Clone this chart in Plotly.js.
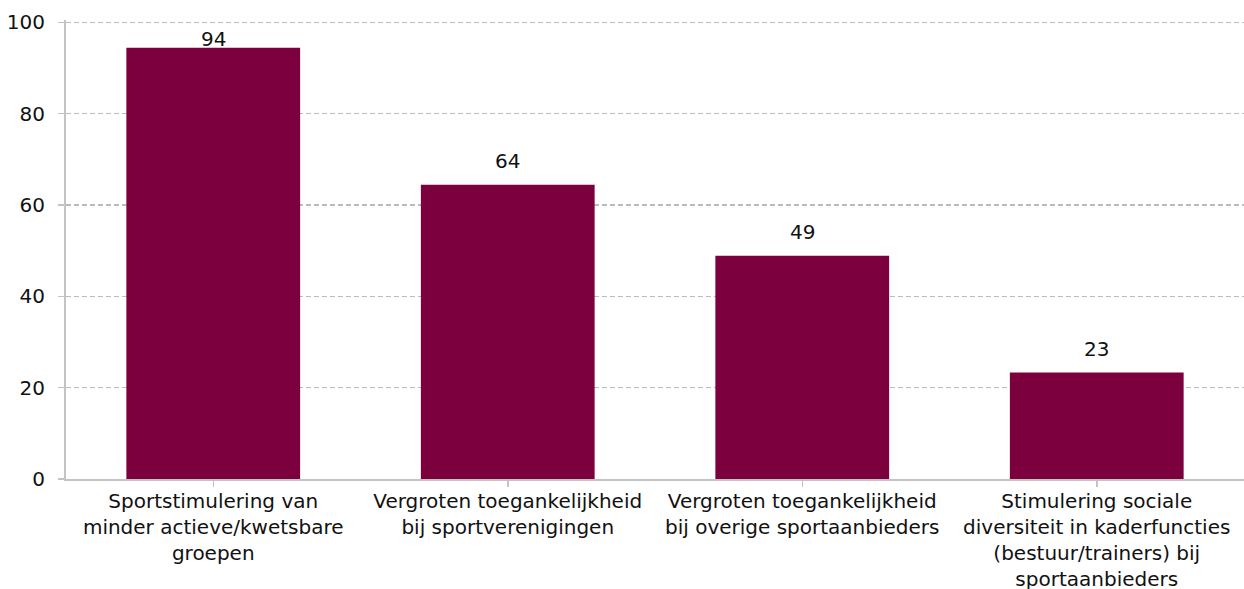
<!DOCTYPE html>
<html>
<head>
<meta charset="utf-8">
<script src="https://cdn.plot.ly/plotly-3.0.1.min.js"></script>
<style>
  html, body { margin: 0; padding: 0; background: #fff; }
  #chart { width: 1244px; height: 589px; }
</style>
</head>
<body>
<div id="chart"></div>
<script>
  var categories = [
    "Sportstimulering van<br>minder actieve/kwetsbare<br>groepen",
    "Vergroten toegankelijkheid<br>bij sportverenigingen",
    "Vergroten toegankelijkheid<br>bij overige sportaanbieders",
    "Stimulering sociale<br>diversiteit in kaderfuncties<br>(bestuur/trainers) bij<br>sportaanbieders"
  ];
  var values = [94.4, 64.4, 48.9, 23.3];
  var valueLabels = ["94", "64", "49", "23"];
  var yTicks = [0, 20, 40, 60, 80, 100];

  var barColor = "#7c003e";
  var gray = "#c4c4c4";
  var font = { family: "DejaVu Sans, Verdana, sans-serif", size: 20, color: "#111" };

  var yMax = 100.5;
  var margin = { l: 66, r: 0, t: 20, b: 110 };
  var plotHeight = 589 - margin.t - margin.b;
  var pxPerUnit = plotHeight / yMax;

  // labels sit above each bar, but are pushed down when they would run past the top
  var annotations = values.map(function (v, i) {
    var room = (100 - v) * pxPerUnit - 31;
    return {
      x: i, y: v, xref: "x", yref: "y",
      text: valueLabels[i], showarrow: false,
      yanchor: "bottom", yshift: Math.min(10, room),
      font: font
    };
  });

  Plotly.newPlot("chart", [{
    type: "bar",
    x: [0, 1, 2, 3],
    y: values,
    width: 0.59,
    marker: { color: barColor },
    hoverinfo: "none"
  }], {
    width: 1244, height: 589,
    margin: margin,
    font: font,
    paper_bgcolor: "#fff",
    plot_bgcolor: "#fff",
    showlegend: false,
    annotations: annotations,
    xaxis: {
      range: [-0.5, 3.5],
      tickmode: "array", tickvals: [0, 1, 2, 3], ticktext: categories,
      tickson: "boundaries",
      ticks: "outside", ticklen: 6, tickcolor: gray, tickwidth: 1.5,
      showline: true, linecolor: gray, linewidth: 2,
      showgrid: false, zeroline: false,
      ticklabelstandoff: -3,
      tickangle: 0, fixedrange: true
    },
    yaxis: {
      range: [0, yMax],
      tickmode: "array", tickvals: yTicks,
      ticks: "outside", ticklen: 6, tickcolor: gray, tickwidth: 1.5,
      showline: true, linecolor: gray, linewidth: 2,
      showgrid: true, gridcolor: "#bcbcbc", griddash: "5px,3px", gridwidth: 1.5,
      zeroline: false, ticklabelstandoff: 9, fixedrange: true
    }
  }, { displayModeBar: false, staticPlot: true });
</script>
</body>
</html>
